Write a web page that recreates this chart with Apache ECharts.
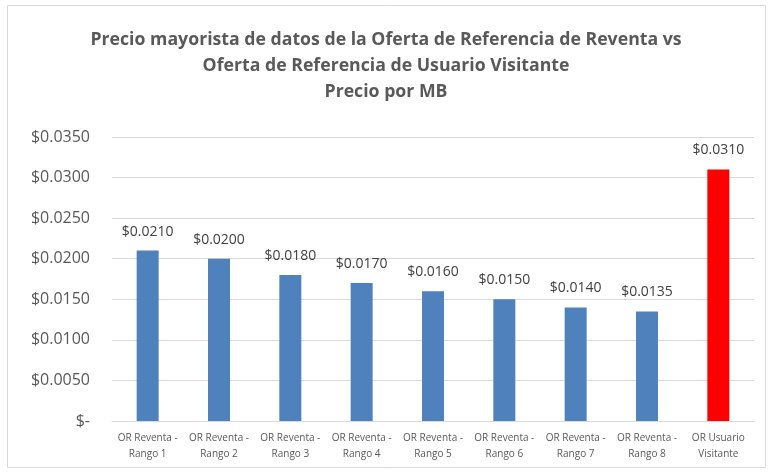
<!DOCTYPE html>
<html>
<head>
<meta charset="utf-8">
<script src="https://cdn.jsdelivr.net/npm/echarts@6/dist/echarts.min.js"></script>
<style>
  html, body { margin: 0; padding: 0; background: #fff; }
  #chart { width: 772px; height: 472px; }
</style>
</head>
<body>
<div id="chart"></div>
<script>
var categories = [
  'OR Reventa -\nRango 1', 'OR Reventa -\nRango 2', 'OR Reventa -\nRango 3',
  'OR Reventa -\nRango 4', 'OR Reventa -\nRango 5', 'OR Reventa -\nRango 6',
  'OR Reventa -\nRango 7', 'OR Reventa -\nRango 8', 'OR Usuario\nVisitante'
];
var prices = [0.0210, 0.0200, 0.0180, 0.0170, 0.0160, 0.0150, 0.0140, 0.0135, 0.0310];
var barColors = ['#4F81BD', '#4F81BD', '#4F81BD', '#4F81BD', '#4F81BD', '#4F81BD', '#4F81BD', '#4F81BD', '#FF0000'];
var titleLines = [
  'Precio mayorista de datos de la Oferta de Referencia de Reventa vs',
  'Oferta de Referencia de Usuario Visitante',
  'Precio por MB'
];

var myChart = echarts.init(document.getElementById('chart'));

function money(v) {
  if (v === 0) return '$-';
  return '$' + v.toFixed(4);
}

var option = {
  animation: false,
  graphic: [{
    type: 'rect',
    shape: { x: 7.5, y: 5.5, width: 758, height: 462 },
    style: { fill: 'none', stroke: '#d9d9d9', lineWidth: 1 },
    silent: true
  }],
  title: {
    text: titleLines.join('\n'),
    left: 'center',
    top: 22,
    textStyle: {
      fontFamily: 'Open Sans',
      fontWeight: 'bold',
      fontSize: 17.7,
      lineHeight: 26,
      color: '#595959'
    }
  },
  grid: {
    left: 112,
    right: 18,
    top: 137,
    bottom: 51
  },
  xAxis: {
    type: 'category',
    data: categories,
    axisLine: { lineStyle: { color: '#d9d9d9' } },
    axisTick: { show: false },
    axisLabel: {
      color: '#595959',
      fontFamily: 'Open Sans',
      fontSize: 10,
      lineHeight: 16,
      margin: 9,
      interval: 0
    }
  },
  yAxis: {
    type: 'value',
    min: 0,
    max: 0.035,
    interval: 0.005,
    axisLine: { show: false },
    axisTick: { show: false },
    splitLine: { lineStyle: { color: '#d9d9d9' } },
    axisLabel: {
      color: '#595959',
      fontFamily: 'Open Sans',
      fontSize: 16,
      margin: 22,
      formatter: money
    }
  },
  series: [{
    type: 'bar',
    barWidth: 22,
    data: prices.map(function (v, i) {
      return { value: v, itemStyle: { color: barColors[i] } };
    }),
    label: {
      show: true,
      position: 'top',
      distance: 12,
      color: '#404040',
      fontFamily: 'Open Sans',
      fontSize: 14,
      formatter: function (p) { return money(p.value); }
    }
  }]
};

myChart.setOption(option);
</script>
</body>
</html>
